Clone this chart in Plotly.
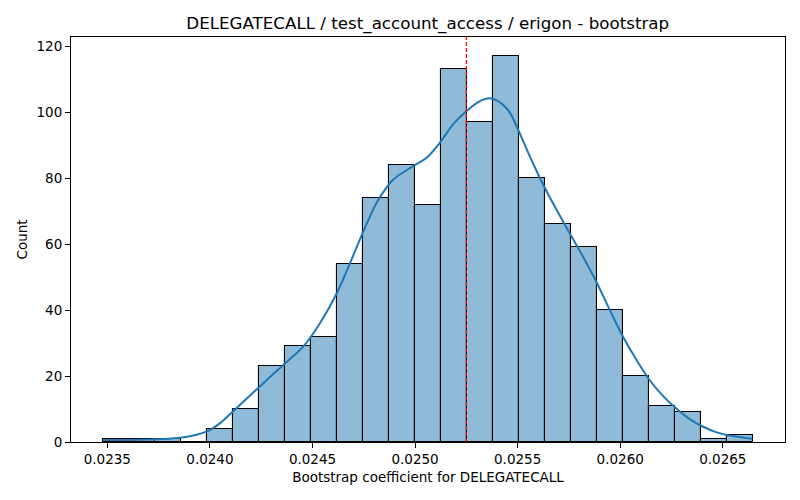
import numpy as np
import plotly.graph_objects as go

# ---- data ----
bin_lo = 0.023481
bin_hi = 0.026645
counts = [1, 1, 1, 0, 4, 10, 23, 29, 32, 54, 74, 84, 72, 113, 97, 117, 80, 66, 59, 40, 20, 11, 9, 1, 2]

kde_x = [0.023481, 0.023662, 0.023800, 0.023880, 0.023940, 0.023986, 0.024051, 0.024116,
         0.024181, 0.024246, 0.024294, 0.024367, 0.024456, 0.024537, 0.024619, 0.024683,
         0.024748, 0.024813, 0.024894, 0.024991, 0.025056, 0.025121, 0.025186, 0.025251,
         0.025316, 0.025364, 0.025405, 0.025440, 0.025465, 0.025502, 0.025559, 0.025624,
         0.025689, 0.025753, 0.025818, 0.025883, 0.025964, 0.026013, 0.026078, 0.026143,
         0.026208, 0.026272, 0.026337, 0.026402, 0.026467, 0.026532, 0.026644]
kde_y = [0.6, 0.7, 1.0, 1.5, 2.3, 3.2, 5.8, 9.5,
         13.3, 17.0, 19.8, 23.9, 29.0, 36.1, 45.2, 54.3,
         63.9, 72.6, 79.6, 83.7, 86.2, 90.8, 96.4, 100.4,
         103.4, 104.3, 103.4, 101.6, 99.6, 94.8, 86.7, 78.1,
         70.5, 63.4, 56.3, 48.7, 38.1, 32.0, 25.0, 18.8,
         14.0, 10.2, 7.0, 4.7, 3.0, 2.0, 1.0]

ref_value = 0.02525

title = "DELEGATECALL / test_account_access / erigon - bootstrap"
x_label = "Bootstrap coefficient for DELEGATECALL"
y_label = "Count"
x_ticks = [0.0235, 0.0240, 0.0245, 0.0250, 0.0255, 0.0260, 0.0265]
x_tick_text = ["0.0235", "0.0240", "0.0245", "0.0250", "0.0255", "0.0260", "0.0265"]
y_ticks = [0, 20, 40, 60, 80, 100, 120]

# ---- derived ----
edges = np.linspace(bin_lo, bin_hi, len(counts) + 1)
centers = (edges[:-1] + edges[1:]) / 2
width = edges[1] - edges[0]
span = bin_hi - bin_lo
x_range = [bin_lo - 0.05 * span, bin_hi + 0.05 * span]
y_range = [0, max(counts) * 1.05]

font = "DejaVu Sans, Liberation Sans, sans-serif"

fig = go.Figure()
fig.add_trace(go.Bar(
    x=centers, y=counts, width=[width] * len(counts),
    marker=dict(color="rgba(31,119,180,0.5)", line=dict(color="black", width=1.1)),
    showlegend=False, hoverinfo="x+y",
))
fig.add_trace(go.Scatter(
    x=kde_x, y=kde_y, mode="lines",
    line=dict(color="#1f77b4", width=2, shape="spline", smoothing=0.8),
    showlegend=False,
))
fig.add_shape(type="line", x0=ref_value, x1=ref_value, xref="x", y0=0, y1=1, yref="paper",
              line=dict(color="red", width=1.2, dash="4px,2px"))

axis_common = dict(
    showgrid=False, zeroline=False, showline=True, linecolor="black", linewidth=1,
    mirror=True, ticks="outside", ticklen=5, tickwidth=1, tickcolor="black",
    tickfont=dict(family=font, size=13.5, color="black"), automargin=False,
)
fig.update_xaxes(range=x_range, tickvals=x_ticks, ticktext=x_tick_text,
                 title=dict(text=x_label, font=dict(family=font, size=13.5, color="black"), standoff=6),
                 **axis_common)
fig.update_yaxes(range=y_range, tickvals=y_ticks,
                 title=dict(text=y_label, font=dict(family=font, size=13.5, color="black"), standoff=5),
                 **axis_common)

# the page body adds an 8px offset, so the figure is sized to fill the rest of the window
fig.update_layout(
    width=792, height=492,
    margin=dict(l=63, r=15, t=29, b=58, pad=0),
    paper_bgcolor="white", plot_bgcolor="white",
    bargap=0,
    title=dict(text=title, x=0.530, xanchor="center", y=0.9695, yanchor="middle",
               font=dict(family=font, size=16.7, color="black")),
    font=dict(family=font),
)

fig.write_html("out.html")
